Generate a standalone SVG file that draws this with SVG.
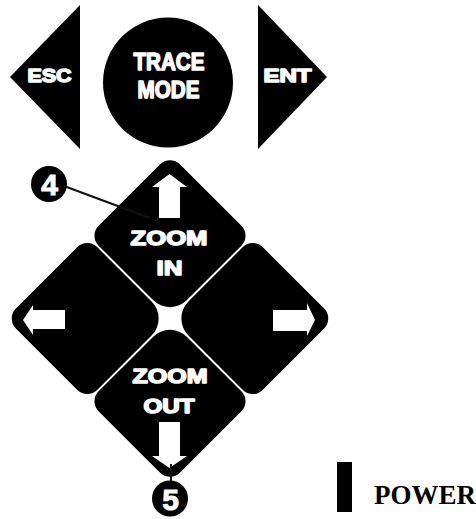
<svg xmlns="http://www.w3.org/2000/svg" width="476" height="519" viewBox="0 0 476 519">
<style>
.k{fill:#000}
.w{fill:#fff}
.lbl{font-family:"Liberation Sans",Arial,sans-serif;font-weight:bold;fill:#fff;stroke:#fff;stroke-width:1.5;stroke-linejoin:round;text-anchor:middle}
.num{font-family:"Liberation Sans",Arial,sans-serif;font-weight:bold;fill:#fff;stroke:#fff;stroke-width:1;font-size:30px;text-anchor:middle}
.lead{stroke:#111;stroke-width:2;fill:none}
</style>
<rect width="476" height="519" fill="#fff"/>
<g id="esc">
<polygon class="k" points="10,77 80,5 80,149"/>
<text class="lbl" x="49.5" y="82" font-size="19" textLength="44" lengthAdjust="spacingAndGlyphs">ESC</text>
</g>
<g id="trace-mode">
<circle class="k" cx="168" cy="82.5" r="65"/>
<text class="lbl" x="169" y="70" font-size="23" textLength="71" lengthAdjust="spacingAndGlyphs">TRACE</text>
<text class="lbl" x="168.5" y="98" font-size="23" textLength="62" lengthAdjust="spacingAndGlyphs">MODE</text>
</g>
<g id="ent">
<polygon class="k" points="258,5 327,77 258,149"/>
<text class="lbl" x="287.5" y="82" font-size="19" textLength="48" lengthAdjust="spacingAndGlyphs">ENT</text>
</g>
<g id="zoom-in">
<path class="k" transform="translate(170,318.5) rotate(45)" d="M -102,-116 H -15 A 14 14 0 0 1 -1,-102 V -25 A 24 24 0 0 1 -25,-1 H -102 A 14 14 0 0 1 -116,-15 V -102 A 14 14 0 0 1 -102,-116 Z"/>
<polygon class="w" points="169.5,174 187,187 180,187 180,218 159,218 159,187 152,187"/>
<text class="lbl" x="169" y="245" font-size="20" textLength="77" lengthAdjust="spacingAndGlyphs">ZOOM</text>
<text class="lbl" x="169.5" y="275" font-size="21" textLength="26" lengthAdjust="spacingAndGlyphs">IN</text>
</g>
<g id="left">
<path class="k" transform="translate(170,318.5) rotate(45)" d="M -102,1 H -25 A 24 24 0 0 1 -1,25 V 102 A 14 14 0 0 1 -15,116 H -102 A 14 14 0 0 1 -116,102 V 15 A 14 14 0 0 1 -102,1 Z"/>
<polygon class="w" points="23,320 33,305 33,310 65,310 65,329 33,329 33,335"/>
</g>
<g id="right">
<path class="k" transform="translate(170,318.5) rotate(45)" d="M 15,-116 H 102 A 14 14 0 0 1 116,-102 V -15 A 14 14 0 0 1 102,-1 H 25 A 24 24 0 0 1 1,-25 V -102 A 14 14 0 0 1 15,-116 Z"/>
<polygon class="w" points="315,320 307,303 307,310 273,310 273,331 307,331 307,336"/>
</g>
<g id="zoom-out">
<path class="k" transform="translate(170,318.5) rotate(45)" d="M 25,1 H 102 A 14 14 0 0 1 116,15 V 102 A 14 14 0 0 1 102,116 H 15 A 14 14 0 0 1 1,102 V 25 A 24 24 0 0 1 25,1 Z"/>
<text class="lbl" x="170" y="383" font-size="20" textLength="75" lengthAdjust="spacingAndGlyphs">ZOOM</text>
<text class="lbl" x="169" y="413" font-size="20" textLength="51" lengthAdjust="spacingAndGlyphs">OUT</text>
<polygon class="w" points="159,422 180,422 180,456 187,456 169.5,468 152,456 159,456"/>
</g>
<g id="callout-4">
<circle class="k" cx="49" cy="184" r="18"/>
<text class="num" x="49.5" y="195">4</text>
</g>
<g id="callout-5">
<circle class="k" cx="170" cy="498.5" r="18"/>
<text class="num" x="170.5" y="509.5">5</text>
</g>
<g id="power">
<rect class="k" x="337" y="462" width="15" height="50"/>
<text x="374" y="504" font-family="'Liberation Serif','Times New Roman',serif" font-weight="bold" font-size="27" fill="#000">POWER</text>
</g>
<g id="connectors">
<line class="lead" x1="64" y1="186" x2="150" y2="218"/>
<line class="lead" x1="171" y1="464" x2="171" y2="481"/>
</g>
</svg>
